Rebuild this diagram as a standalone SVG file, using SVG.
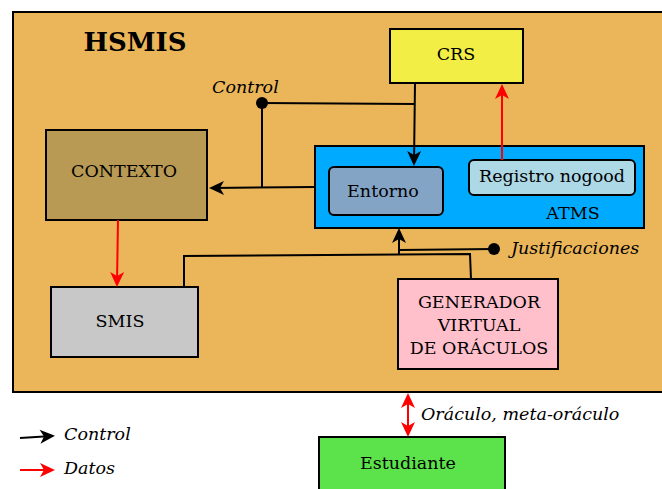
<svg xmlns="http://www.w3.org/2000/svg" width="662" height="489" viewBox="0 0 662 489">
  <style>
    text { font-family: "DejaVu Serif", "Liberation Serif", serif; font-size: 17.5px; fill: #000; }
    .lbl { text-anchor: middle; }
    .it { font-style: italic; }
    .box { stroke: #000; stroke-width: 2; }
    .ln { fill: none; stroke: #000; stroke-width: 2; }
    .red { fill: none; stroke: #ff0000; stroke-width: 2; }
  </style>
  <defs>
    <marker id="ah" markerUnits="userSpaceOnUse" markerWidth="16" markerHeight="16" refX="12" refY="7.5" orient="auto" overflow="visible">
      <path d="M15,7.5 L0,0.5 L4,7.5 L0,14.5 Z" fill="#000"/>
    </marker>
    <marker id="ahr" markerUnits="userSpaceOnUse" markerWidth="16" markerHeight="16" refX="12" refY="7.5" orient="auto-start-reverse" overflow="visible">
      <path d="M15,7.5 L0,0.5 L4,7.5 L0,14.5 Z" fill="#ff0000"/>
    </marker>
  </defs>

  <!-- HSMIS container -->
  <g id="hsmis">
    <rect x="13" y="12" width="700" height="380" fill="#ebb65a" class="box"/>
    <text x="135" y="51" class="lbl" style="font-weight:bold;font-size:26px">HSMIS</text>
  </g>

  <g id="crs">
    <rect x="390" y="29" width="133" height="54" fill="#f2ee45" class="box"/>
    <text x="456" y="60" class="lbl">CRS</text>
  </g>

  <g id="contexto">
    <rect x="46" y="130" width="161" height="90" fill="#b89a55" class="box"/>
    <text x="124" y="177" class="lbl">CONTEXTO</text>
  </g>

  <g id="atms">
    <rect x="315" y="146" width="329" height="82" fill="#00aaff" class="box"/>
    <text x="573" y="219" class="lbl">ATMS</text>
  </g>

  <g id="entorno">
    <rect x="329" y="167" width="114" height="48" rx="5" fill="#84a4c6" class="box"/>
    <text x="383" y="197" class="lbl">Entorno</text>
  </g>

  <g id="registro">
    <rect x="469" y="160" width="166" height="35" rx="5" fill="#add8e6" class="box"/>
    <text x="552" y="182" class="lbl">Registro nogood</text>
  </g>

  <g id="smis">
    <rect x="51" y="287" width="147" height="70" fill="#c8c8c8" class="box"/>
    <text x="120" y="327" class="lbl">SMIS</text>
  </g>

  <g id="generador">
    <rect x="398" y="279" width="160" height="90" fill="#ffbfcb" class="box"/>
    <text x="479" y="308" class="lbl">GENERADOR</text>
    <text x="479" y="331" class="lbl">VIRTUAL</text>
    <text x="479" y="354" class="lbl">DE ORÁCULOS</text>
  </g>

  <g id="estudiante">
    <rect x="319" y="437" width="186" height="70" fill="#5ce34b" class="box"/>
    <text x="408" y="469" class="lbl">Estudiante</text>
  </g>

  <!-- connectors -->
  <g id="connectors">
    <!-- control taps from CRS down to Entorno -->
    <path class="ln" d="M262,103 L415,104"/>
    <path class="ln" d="M415,83 L414,163" marker-end="url(#ah)"/>
    <path class="ln" d="M262,103 L262,187"/>
    <circle cx="262" cy="103" r="6" fill="#000"/>
    <text x="212" y="93" class="it">Control</text>
    <!-- ATMS to CONTEXTO -->
    <path class="ln" d="M315,187 L212,188" marker-end="url(#ah)"/>
    <!-- data flows -->
    <path class="red" d="M118,220 L117,284" marker-end="url(#ahr)"/>
    <path class="red" d="M502,160 L502,87" marker-end="url(#ahr)"/>
    <!-- SMIS / generator link with justifications into ATMS -->
    <path class="ln" d="M184,287 L184,256 L470,254 L471,279"/>
    <path class="ln" d="M494,249 L399,250"/>
    <path class="ln" d="M399,255 L399,231" marker-end="url(#ah)"/>
    <circle cx="494" cy="249" r="6" fill="#000"/>
    <text x="511" y="254" class="it">Justificaciones</text>
    <!-- oracle exchange with the student -->
    <path class="red" d="M408,396 L408,434" marker-start="url(#ahr)" marker-end="url(#ahr)"/>
    <text x="421" y="420" class="it">Oráculo, meta-oráculo</text>
  </g>

  <!-- legend -->
  <g id="legend">
    <path class="ln" d="M20,438 L52,436" marker-end="url(#ah)"/>
    <text x="64" y="440" class="it">Control</text>
    <path class="red" d="M20,470 L52,470" marker-end="url(#ahr)"/>
    <text x="64" y="474" class="it">Datos</text>
  </g>
</svg>
